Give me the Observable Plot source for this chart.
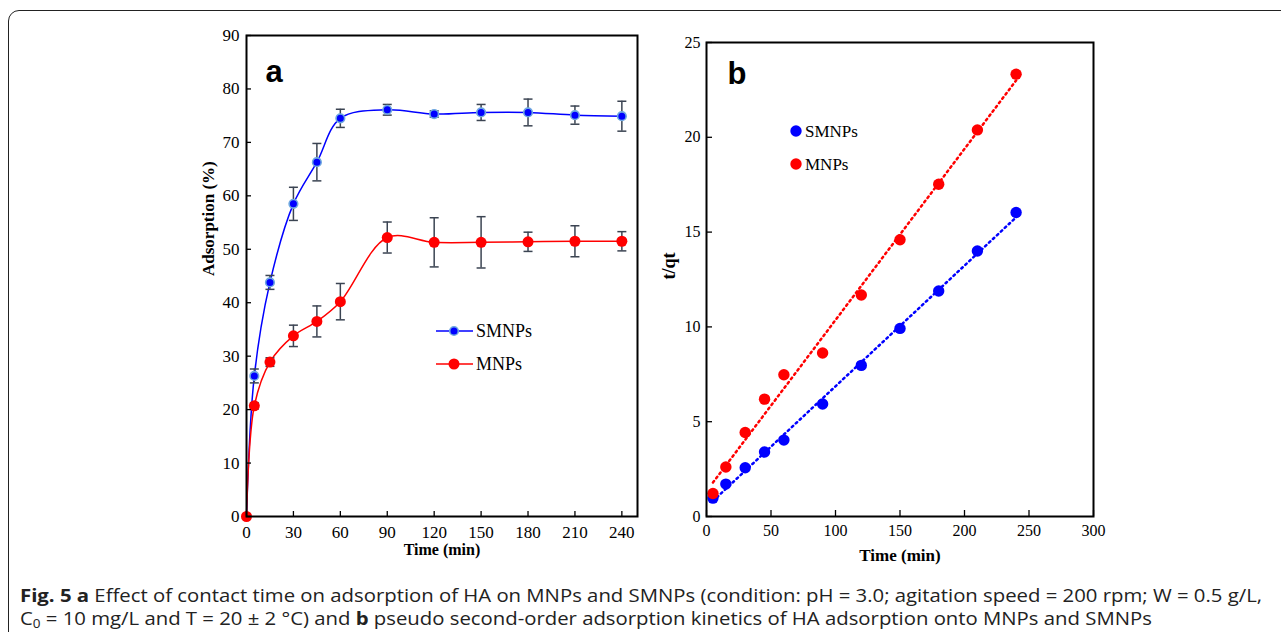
<!DOCTYPE html>
<html><head><meta charset="utf-8">
<script src="https://cdn.jsdelivr.net/npm/d3@7"></script>
<script src="https://cdn.jsdelivr.net/npm/@observablehq/plot@0.6"></script>
<style>
body{margin:0;background:#fff;}
#root{position:relative;width:1281px;height:632px;overflow:hidden;background:#fff;}
#box{position:absolute;left:8px;top:10px;width:1300px;height:660px;border:1.5px solid #222;border-radius:11px;}
.panel{position:absolute;top:0;}
.cap{position:absolute;left:20px;font-family:"Open Sans",sans-serif;font-size:18px;line-height:20px;color:#222;white-space:nowrap;transform-origin:0 0;}
.cap sub{font-size:12px;line-height:0;vertical-align:-3px;}
#legend{position:absolute;left:0;top:0;}
</style></head>
<body><div id="root"><div id="box"></div>
<div id="pa" class="panel" style="left:160px"></div>
<div id="pb" class="panel" style="left:650px"></div>
<svg id="legend" width="1281" height="632"></svg>
<div class="cap" id="cap1" style="top:585px"><b>Fig. 5</b> <b>a</b> Effect of contact time on adsorption of HA on MNPs and SMNPs (condition: pH = 3.0; agitation speed = 200 rpm; W = 0.5 g/L,</div>
<div class="cap" id="cap2" style="top:608px">C<sub>0</sub> = 10 mg/L and T = 20 ± 2 °C) and <b>b</b> pseudo second-order adsorption kinetics of HA adsorption onto MNPs and SMNPs</div>
</div>
<script>
// ---- data: panel a ----
const timeA = [0, 5, 15, 30, 45, 60, 90, 120, 150, 180, 210, 240];
const smnpA = [0, 26.3, 43.8, 58.5, 66.3, 74.5, 76.1, 75.3, 75.6, 75.6, 75.1, 74.9];
const smnpErr = [0, 1.3, 1.3, 3.1, 3.5, 1.7, 1.0, 0.6, 1.5, 2.5, 1.7, 2.8];
const mnpA = [0, 20.7, 28.9, 33.8, 36.5, 40.2, 52.2, 51.3, 51.3, 51.4, 51.5, 51.5];
const mnpErr = [0, 0.6, 0.8, 2.0, 2.9, 3.4, 2.9, 4.6, 4.8, 1.8, 2.9, 1.8];
const xTicksA = [0, 30, 60, 90, 120, 150, 180, 210, 240];
const yTicksA = [0, 10, 20, 30, 40, 50, 60, 70, 80, 90];
// ---- data: panel b ----
const timeB = [5, 15, 30, 45, 60, 90, 120, 150, 180, 210, 240];
const smnpB = [0.97, 1.71, 2.57, 3.40, 4.03, 5.93, 7.97, 9.92, 11.89, 14.0, 16.03];
const mnpB = [1.21, 2.61, 4.43, 6.19, 7.48, 8.62, 11.68, 14.6, 17.52, 20.39, 23.33];
const xTicksB = [0, 50, 100, 150, 200, 250, 300];
const yTicksB = [0, 5, 10, 15, 20, 25];
const series = ["SMNPs", "MNPs"];
const colors = {SMNPs: "#0000ff", MNPs: "#ff0000"};

const serif = '"Liberation Serif","Times New Roman",serif';
const sans = '"Liberation Sans",Arial,sans-serif';

const rowsA = timeA.flatMap((t, i) => [
  {t, v: smnpA[i], e: smnpErr[i], s: series[0]},
  {t, v: mnpA[i], e: mnpErr[i], s: series[1]}
]);
const errRows = rowsA.filter(d => d.e > 0);
const capSym = {draw(ctx) { ctx.moveTo(-4.5, 0); ctx.lineTo(4.5, 0); }};

const A = Plot.plot({
  width: 500, height: 570,
  marginLeft: 86, marginRight: 23, marginTop: 35, marginBottom: 54,
  style: {fontFamily: serif, fontSize: "17px", color: "#000", background: "transparent", overflow: "visible"},
  x: {domain: [0, 250]},
  y: {domain: [0, 90]},
  marks: [
    Plot.line(rowsA, {x: "t", y: "v", z: "s", stroke: d => colors[d.s], strokeWidth: 1.5, curve: "catmull-rom"}),
    Plot.ruleX(errRows, {x: "t", y1: d => d.v - d.e, y2: d => d.v + d.e, stroke: "#3b4452", strokeWidth: 1.5}),
    Plot.dot(errRows, {x: "t", y: d => d.v + d.e, symbol: capSym, stroke: "#3b4452", strokeWidth: 1.5, fill: "none"}),
    Plot.dot(errRows, {x: "t", y: d => d.v - d.e, symbol: capSym, stroke: "#3b4452", strokeWidth: 1.5, fill: "none"}),
    Plot.dot(rowsA.filter(d => d.s === "MNPs"), {x: "t", y: "v", r: 5.5, fill: colors.MNPs, stroke: "none"}),
    Plot.dot(rowsA.filter(d => d.s === "SMNPs" && d.t > 0), {x: "t", y: "v", r: 4.3, fill: colors.SMNPs, stroke: "#6fa8e0", strokeWidth: 1.6}),
    Plot.axisX(xTicksA, {tickSize: -5, tickPadding: 14, label: null, strokeWidth: 1.3}),
    Plot.axisY(yTicksA, {tickSize: -5, tickPadding: 12, label: null, strokeWidth: 1.3}),
    Plot.frame({stroke: "#000", strokeWidth: 2}),
    Plot.text(["Time (min)"], {frameAnchor: "bottom", dy: 33, fontWeight: "bold", fontSize: 16, lineAnchor: "middle"}),
    Plot.text(["Adsorption (%)"], {frameAnchor: "left", dx: -38, rotate: -90, fontWeight: "bold", fontSize: 17, lineAnchor: "middle"}),
    Plot.text(["a"], {frameAnchor: "top-left", dx: 19, dy: 46, fontFamily: sans, fontWeight: "bold", fontSize: 31, textAnchor: "start", lineAnchor: "bottom"})
  ]
});
document.getElementById("pa").appendChild(A);

const rowsB = timeB.flatMap((t, i) => [
  {t, v: smnpB[i], s: series[0]},
  {t, v: mnpB[i], s: series[1]}
]);
const B = Plot.plot({
  width: 480, height: 570,
  marginLeft: 56, marginRight: 37, marginTop: 42, marginBottom: 54,
  style: {fontFamily: serif, fontSize: "16px", color: "#000", background: "transparent", overflow: "visible"},
  x: {domain: [0, 300]},
  y: {domain: [0, 25]},
  marks: [
    Plot.linearRegressionY(rowsB, {x: "t", y: "v", z: "s", stroke: d => colors[d.s], ci: 0, strokeWidth: 2.5, strokeDasharray: "1.8,3.6"}),
    Plot.dot(rowsB, {x: "t", y: "v", r: 5.7, fill: d => colors[d.s], stroke: "none"}),
    Plot.axisX(xTicksB, {tickSize: -6, tickPadding: 14, label: null, strokeWidth: 1.3}),
    Plot.axisY(yTicksB, {tickSize: -6, tickPadding: 12, label: null, strokeWidth: 1.3}),
    Plot.frame({stroke: "#000", strokeWidth: 2}),
    Plot.text(["Time (min)"], {frameAnchor: "bottom", dy: 39, fontWeight: "bold", fontSize: 17, lineAnchor: "middle"}),
    Plot.text(["t/qt"], {frameAnchor: "left", dx: -37, rotate: -90, fontWeight: "bold", fontSize: 18, lineAnchor: "middle"}),
    Plot.text(["b"], {frameAnchor: "top-left", dx: 21, dy: 41, fontFamily: sans, fontWeight: "bold", fontSize: 31, textAnchor: "start", lineAnchor: "bottom"})
  ]
});
document.getElementById("pb").appendChild(B);

// ---- legends ----
const lg = d3.select("#legend");
const legA = [{s: "SMNPs", y: 331}, {s: "MNPs", y: 364}];
legA.forEach(d => {
  lg.append("line").attr("x1", 436).attr("x2", 473).attr("y1", d.y).attr("y2", d.y).attr("stroke", colors[d.s]).attr("stroke-width", 1.5);
  if (d.s === "SMNPs") lg.append("circle").attr("cx", 454).attr("cy", d.y).attr("r", 4.3).attr("fill", colors[d.s]).attr("stroke", "#6fa8e0").attr("stroke-width", 1.6);
  else lg.append("circle").attr("cx", 454).attr("cy", d.y).attr("r", 5.5).attr("fill", colors[d.s]);
  lg.append("text").attr("x", 476).attr("y", d.y).attr("dy", "0.35em").attr("font-family", serif).attr("font-size", 18).text(d.s);
});
const legB = [{s: "SMNPs", y: 131}, {s: "MNPs", y: 164}];
legB.forEach(d => {
  lg.append("circle").attr("cx", 796).attr("cy", d.y).attr("r", 5.7).attr("fill", colors[d.s]);
  lg.append("text").attr("x", 805).attr("y", d.y).attr("dy", "0.35em").attr("font-family", serif).attr("font-size", 17).text(d.s);
});

// ---- caption horizontal fit (reference text is slightly stretched) ----
const c1 = document.getElementById("cap1"), c2 = document.getElementById("cap2");
const k = 1242 / c1.getBoundingClientRect().width;
c1.style.transform = c2.style.transform = `scaleX(${k})`;
</script>
</body></html>
